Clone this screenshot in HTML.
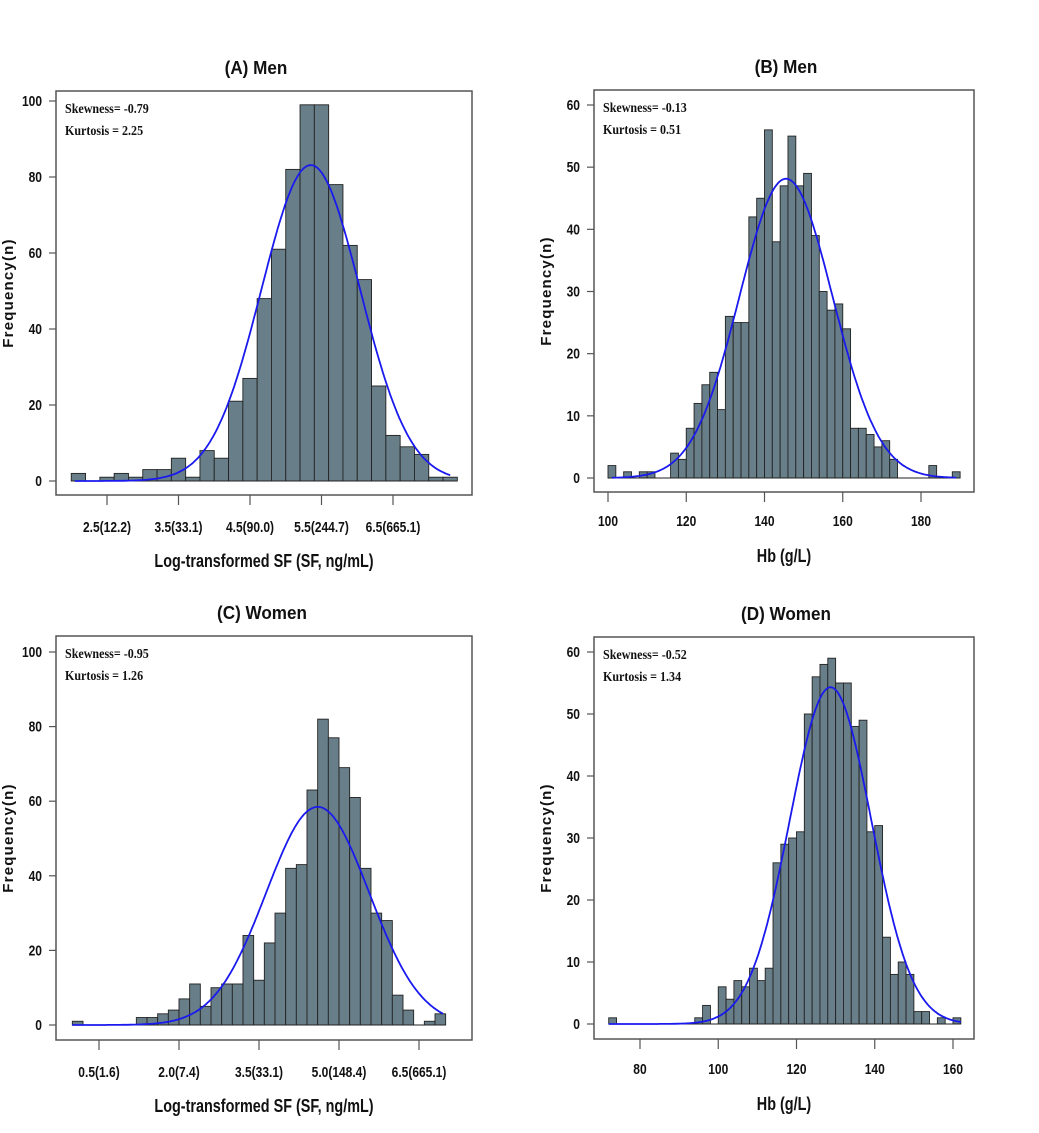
<!DOCTYPE html>
<html><head><meta charset="utf-8"><style>
body{margin:0;background:#fff;}
svg{display:block;}
.tk{font-family:"Liberation Sans",Arial,sans-serif;font-weight:bold;font-size:15px;fill:#111;}
.yt{font-family:"Liberation Sans",Arial,sans-serif;font-weight:bold;font-size:15px;fill:#111;}
.ttl{font-family:"Liberation Sans",Arial,sans-serif;font-weight:bold;font-size:18px;fill:#111;}
.ptl{font-family:"Liberation Sans",Arial,sans-serif;font-weight:bold;font-size:18px;fill:#111;}
.st{font-family:"Liberation Serif","Times New Roman",serif;font-weight:bold;font-size:14px;fill:#111;}
</style></head><body>
<svg id="chart" width="1039" height="1133" viewBox="0 0 1039 1133" xmlns="http://www.w3.org/2000/svg"></svg>
<script>
// Panel A: Men, log SF
const countsA = [2,0,1,2,1,3,3,6,1,8,6,21,27,48,61,82,99,99,78,62,53,25,12,9,7,1,1];
const binStartA = 2.0, binWidthA = 0.2;
const fitA = [5.35, 0.69, 719]; // mean, sd, n
const xTicksA = [2.5,3.5,4.5,5.5,6.5];
const xTickLabelsA = ["2.5(12.2)","3.5(33.1)","4.5(90.0)","5.5(244.7)","6.5(665.1)"];
const yTicksA = [0,20,40,60,80,100];
const statsA = ["Skewness= -0.79","Kurtosis = 2.25"];
// Panel B: Men, Hb
const countsB = [2,0,1,0,1,1,0,0,4,3,8,12,15,17,11,26,25,25,42,45,56,38,47,55,47,49,39,30,27,28,24,8,8,7,5,6,3,0,0,0,0,2,0,0,1];
const binStartB = 100, binWidthB = 2;
const fitB = [145.5, 11.9, 718];
const xTicksB = [100,120,140,160,180];
const xTickLabelsB = ["100","120","140","160","180"];
const yTicksB = [0,10,20,30,40,50,60];
const statsB = ["Skewness= -0.13","Kurtosis = 0.51"];
// Panel C: Women, log SF
const countsC = [1,0,0,0,0,0,2,2,3,4,7,11,5,10,11,11,24,12,22,30,42,43,63,82,77,69,61,42,30,28,8,4,0,1,3];
const binStartC = 0.0, binWidthC = 0.2;
const fitC = [4.6, 0.966, 708];
const xTicksC = [0.5,2.0,3.5,5.0,6.5];
const xTickLabelsC = ["0.5(1.6)","2.0(7.4)","3.5(33.1)","5.0(148.4)","6.5(665.1)"];
const yTicksC = [0,20,40,60,80,100];
const statsC = ["Skewness= -0.95","Kurtosis = 1.26"];
// Panel D: Women, Hb
const countsD = [1,0,0,0,0,0,0,0,0,0,0,1,3,0,6,4,7,6,9,7,9,26,29,30,31,50,56,58,59,55,55,48,49,31,32,14,8,10,8,2,2,0,1,0,1];
const binStartD = 72, binWidthD = 2;
const fitD = [128.7, 10.4, 708];
const xTicksD = [80,100,120,140,160];
const xTickLabelsD = ["80","100","120","140","160"];
const yTicksD = [0,10,20,30,40,50,60];
const statsD = ["Skewness= -0.52","Kurtosis = 1.34"];

const NS="http://www.w3.org/2000/svg";
const svg=document.getElementById('chart');
function mk(tag,attrs,parent){const e=document.createElementNS(NS,tag);for(const k in attrs)e.setAttribute(k,attrs[k]);(parent||svg).appendChild(e);return e;}

function panel(cfg){
  const g=mk('g',{});
  
  
  const xs=v=>cfg.px0+(v-cfg.xv0)*(cfg.px1-cfg.px0)/(cfg.xv1-cfg.xv0);
  const ys=v=>cfg.py0+(v-cfg.yv0)*(cfg.py1-cfg.py0)/(cfg.yv1-cfg.yv0);
  const box=mk('rect',{x:cfg.bx0,y:cfg.by0,width:cfg.bx1-cfg.bx0,height:cfg.by1-cfg.by0,fill:'none',stroke:'#555','stroke-width':1.5},g);
  
  
  cfg.counts.forEach((c,i)=>{
    if(c<=0){return;}
    const x0=xs(cfg.binStart+i*cfg.binWidth),x1=xs(cfg.binStart+(i+1)*cfg.binWidth);
    const r=mk('rect',{x:x0,y:ys(c),width:x1-x0,height:ys(0)-ys(c),fill:'#687f89',stroke:'#222','stroke-width':0.9},g);
    
    
  });
  const first=xs(cfg.binStart),last=xs(cfg.binStart+cfg.counts.length*cfg.binWidth);
  const bl=mk('line',{x1:first,x2:last,y1:ys(0),y2:ys(0),stroke:'#222','stroke-width':1},g);
  
  
  const m=cfg.fit[0],sd=cfg.fit[1],n=cfg.fit[2];
  let d='';const a=cfg.curve[0],b=cfg.curve[1];
  for(let k=0;k<=200;k++){const v=a+(b-a)*k/200;const f=n*cfg.binWidth/(sd*Math.sqrt(2*Math.PI))*Math.exp(-0.5*((v-m)/sd)**2);d+=(k?'L':'M')+xs(v).toFixed(1)+' '+ys(f).toFixed(1);}
  const p=mk('path',{d:d,fill:'none',stroke:'#1a1aee','stroke-width':1.8},g);
  
  
  cfg.yTicks.forEach(t=>{
    const y=ys(t);
    const l=mk('line',{x1:cfg.bx0-7,x2:cfg.bx0,y1:y,y2:y,stroke:'#555','stroke-width':1.2},g);
    
    
    const tx=mk('text',{x:cfg.bx0-14,y:y+5,'text-anchor':'end',class:'tk'},g);
    tx.textContent=t;
    
    
  });
  cfg.xTicks.forEach((t,i)=>{
    const x=xs(t);
    const l=mk('line',{x1:x,x2:x,y1:cfg.by1,y2:cfg.by1+10,stroke:'#555','stroke-width':1.2},g);
    
    
    const tx=mk('text',{x:x,y:cfg.by1+cfg.xlabOff,'text-anchor':'middle',class:'tk'},g);
    tx.textContent=cfg.xLabels[i];
    
    
  });
  const xt=mk('text',{x:(cfg.bx0+cfg.bx1)/2,y:cfg.by1+cfg.xtitleOff,'text-anchor':'middle',class:'ttl'},g);
  xt.textContent=cfg.xTitle;
  
  
  const cy=(cfg.by0+cfg.by1)/2;
  const yx=cfg.bx0-cfg.ytitleOff;
  const yt=mk('text',{x:yx,y:cy,'text-anchor':'middle',class:'yt',transform:'rotate(-90 '+yx+' '+cy+')','letter-spacing':'1.2'},g);
  yt.textContent='Frequency(n)';
  
  
  const tt=mk('text',{x:cfg.titleX,y:cfg.by0-17,'text-anchor':'middle',class:'ptl'},g);
  tt.textContent=cfg.title;
  
  
  cfg.stats.forEach((s,i)=>{
    const st=mk('text',{x:cfg.bx0+9,y:cfg.by0+22+i*22,class:'st'},g);
    st.textContent=s;
    
    
  });
}

panel({name:'panel-a-men-sf',counts:countsA,binStart:binStartA,binWidth:binWidthA,fit:fitA,curve:[2.05,7.3],
  xv0:2.5,xv1:6.5,px0:107,px1:393,yv0:0,yv1:100,py0:481,py1:101,bx0:56,bx1:472,by0:91,by1:495,
  yTicks:yTicksA,xTicks:xTicksA,xLabels:xTickLabelsA,xlabOff:37,xtitleOff:72,xTitle:'Log-transformed SF (SF, ng/mL)',ytitleOff:43,
  title:'(A)  Men',titleX:256,stats:statsA});
panel({name:'panel-b-men-hb',counts:countsB,binStart:binStartB,binWidth:binWidthB,fit:fitB,curve:[101,189],
  xv0:100,xv1:180,px0:608,px1:921,yv0:0,yv1:60,py0:478,py1:105,bx0:594,bx1:974,by0:90,by1:492,
  yTicks:yTicksB,xTicks:xTicksB,xLabels:xTickLabelsB,xlabOff:34,xtitleOff:70,xTitle:'Hb (g/L)',ytitleOff:43,
  title:'(B)  Men',titleX:786,stats:statsB});
panel({name:'panel-c-women-sf',counts:countsC,binStart:binStartC,binWidth:binWidthC,fit:fitC,curve:[0.0,6.95],
  xv0:0.5,xv1:6.5,px0:99,px1:419,yv0:0,yv1:100,py0:1025,py1:652,bx0:56,bx1:472,by0:636,by1:1040,
  yTicks:yTicksC,xTicks:xTicksC,xLabels:xTickLabelsC,xlabOff:37,xtitleOff:72,xTitle:'Log-transformed SF (SF, ng/mL)',ytitleOff:43,
  title:'(C)  Women',titleX:262,stats:statsC});
panel({name:'panel-d-women-hb',counts:countsD,binStart:binStartD,binWidth:binWidthD,fit:fitD,curve:[72,162],
  xv0:80,xv1:160,px0:640,px1:953,yv0:0,yv1:60,py0:1024,py1:652,bx0:594,bx1:974,by0:637,by1:1039,
  yTicks:yTicksD,xTicks:xTicksD,xLabels:xTickLabelsD,xlabOff:35,xtitleOff:71,xTitle:'Hb (g/L)',ytitleOff:43,
  title:'(D)  Women',titleX:786,stats:statsD});

// condense text to mimic narrow reference fonts
const squeeze={tk:0.8,ttl:0.8,ptl:0.95,st:0.86};
svg.querySelectorAll('text').forEach(t=>{
  const f=squeeze[t.getAttribute('class')];
  if(!f)return;
  const L=t.getComputedTextLength();
  if(L>0){t.setAttribute('textLength',(L*f).toFixed(1));t.setAttribute('lengthAdjust','spacingAndGlyphs');}
});
</script>
</body></html>
